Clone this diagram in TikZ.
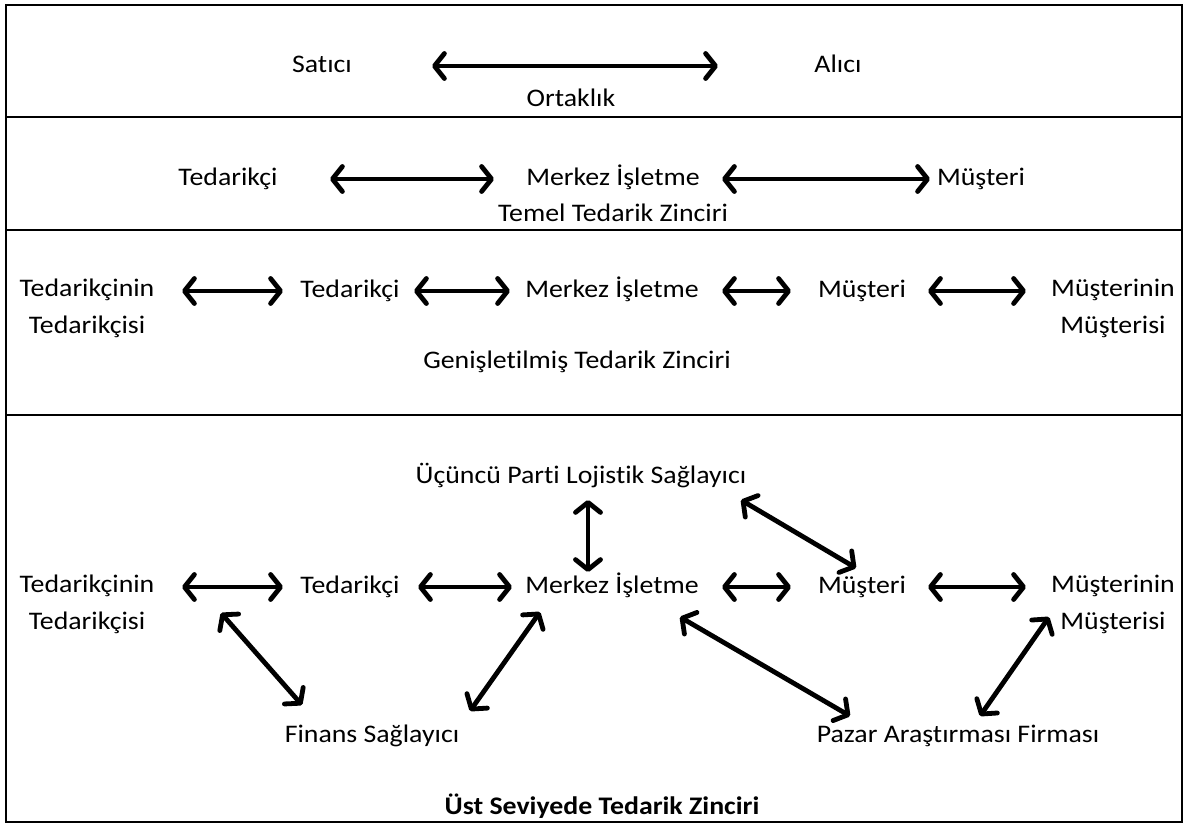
\documentclass[tikz,border=0pt]{standalone}
\usepackage{fontspec}
\setmainfont{Carlito}[FakeStretch=1.1, Ligatures=NoCommon]
\usetikzlibrary{arrows.meta,calc}

\begin{document}
\begin{tikzpicture}[x=1pt,y=-1pt,
  lbl/.style={font=\fontsize{25.3}{37}\selectfont, inner sep=0pt, text height=16pt, text depth=4pt},
  lbltwo/.style={font=\fontsize{25.3}{37}\selectfont, inner sep=0pt, align=center},
  ttl/.style={lbl, font=\fontsize{25.3}{37}\selectfont\bfseries},
  barb/.tip={Straight Barb[round,length=10pt,width=25pt]},
  arr/.style={line width=4.8pt, barb-barb,
    preaction={draw=black!30, transform canvas={shift={(1.2pt,-1.6pt)}}}},
  frame/.style={line width=2.5pt}]
\useasboundingbox (0,0) rectangle (1189,825);

% frame and band separators
\draw[frame] (6,5) rectangle (1182,822);
\draw[frame] (6,117) -- (1182,117);
\draw[frame] (6,230) -- (1182,230);
\draw[frame] (6,415) -- (1182,415);

% band 1: partnership
\node[lbl] (sat) at (322,66) {Satıcı};
\node[lbl] (ali) at (838,66) {Alıcı};
\node[lbl] (ort) at (571,100) {Ortaklık};
\draw[arr] ([shift={(110,0)}]sat.center) -- ([shift={(-120,0)}]ali.center);

% band 2: basic supply chain
\node[lbl] (teda) at (228,179) {Tedarikçi};
\node[lbl] (mera) at (613,179) {Merkez İşletme};
\node[lbl] (musa) at (981,179) {Müşteri};
\node[lbl] (tem) at (613,215) {Temel Tedarik Zinciri};
\draw[arr] ([shift={(102,0)}]teda.center) -- ([shift={(-119,0)}]mera.center);
\draw[arr] ([shift={(109,0)}]mera.center) -- ([shift={(-51,0)}]musa.center);

% band 3: extended supply chain
\node[lbltwo] (ttb) at (87,308) {Tedarikçinin\\Tedarikçisi};
\node[lbl] (tedb) at (350,291) {Tedarikçi};
\node[lbl] (merb) at (612,291) {Merkez İşletme};
\node[lbl] (musb) at (862,291) {Müşteri};
\node[lbltwo] (mmb) at (1113,308) {Müşterinin\\Müşterisi};
\node[lbl] (gen) at (577,362) {Genişletilmiş Tedarik Zinciri};
\draw[arr] ($(ttb.center |- tedb.center)+(95,0)$) -- ([shift={(-67,0)}]tedb.center);
\draw[arr] ([shift={(64,0)}]tedb.center) -- ([shift={(-102,0)}]merb.center);
\draw[arr] ([shift={(110,0)}]merb.center) -- ([shift={(-71,0)}]musb.center);
\draw[arr] ([shift={(66,0)}]musb.center) -- ($(mmb.center |- musb.center)+(-87,0)$);

% band 4: ultimate supply chain
\node[lbl] (ucu) at (581,477) {Üçüncü Parti Lojistik Sağlayıcı};
\node[lbltwo] (ttc) at (87,604) {Tedarikçinin\\Tedarikçisi};
\node[lbl] (tedc) at (350,587) {Tedarikçi};
\node[lbl] (merc) at (612,587) {Merkez İşletme};
\node[lbl] (musc) at (862,587) {Müşteri};
\node[lbltwo] (mmc) at (1113,604) {Müşterinin\\Müşterisi};
\node[lbl] (fin) at (372,736) {Finans Sağlayıcı};
\node[lbl] (paz) at (958,736) {Pazar Araştırması Firması};
\node[ttl] (ust) at (602,808) {Üst Seviyede Tedarik Zinciri};

\draw[arr] ($(ttc.center |- tedc.center)+(95,0)$) -- ([shift={(-67,0)}]tedc.center);
\draw[arr] ([shift={(68,0)}]tedc.center) -- ([shift={(-100,0)}]merc.center);
\draw[arr] ([shift={(110,0)}]merc.center) -- ([shift={(-71,0)}]musc.center);
\draw[arr] ([shift={(66,0)}]musc.center) -- ($(mmc.center |- musc.center)+(-87,0)$);

\draw[arr] ([shift={(7,23)}]ucu.center) -- ([shift={(-24,-15)}]merc.center);
\draw[arr] ([shift={(160,23)}]ucu.center) -- ([shift={(-6,-19)}]musc.center);
\draw[arr] ([shift={(134,9)}]ttc.center) -- ([shift={(-70,-31)}]fin.center);
\draw[arr] ([shift={(-72,25)}]merc.center) -- ([shift={(98,-25)}]fin.center);
\draw[arr] ([shift={(68,30)}]merc.center) -- ([shift={(-108,-20)}]paz.center);
\draw[arr] ([shift={(-64,13)}]mmc.center) -- ([shift={(22,-20)}]paz.center);
\end{tikzpicture}
\end{document}
